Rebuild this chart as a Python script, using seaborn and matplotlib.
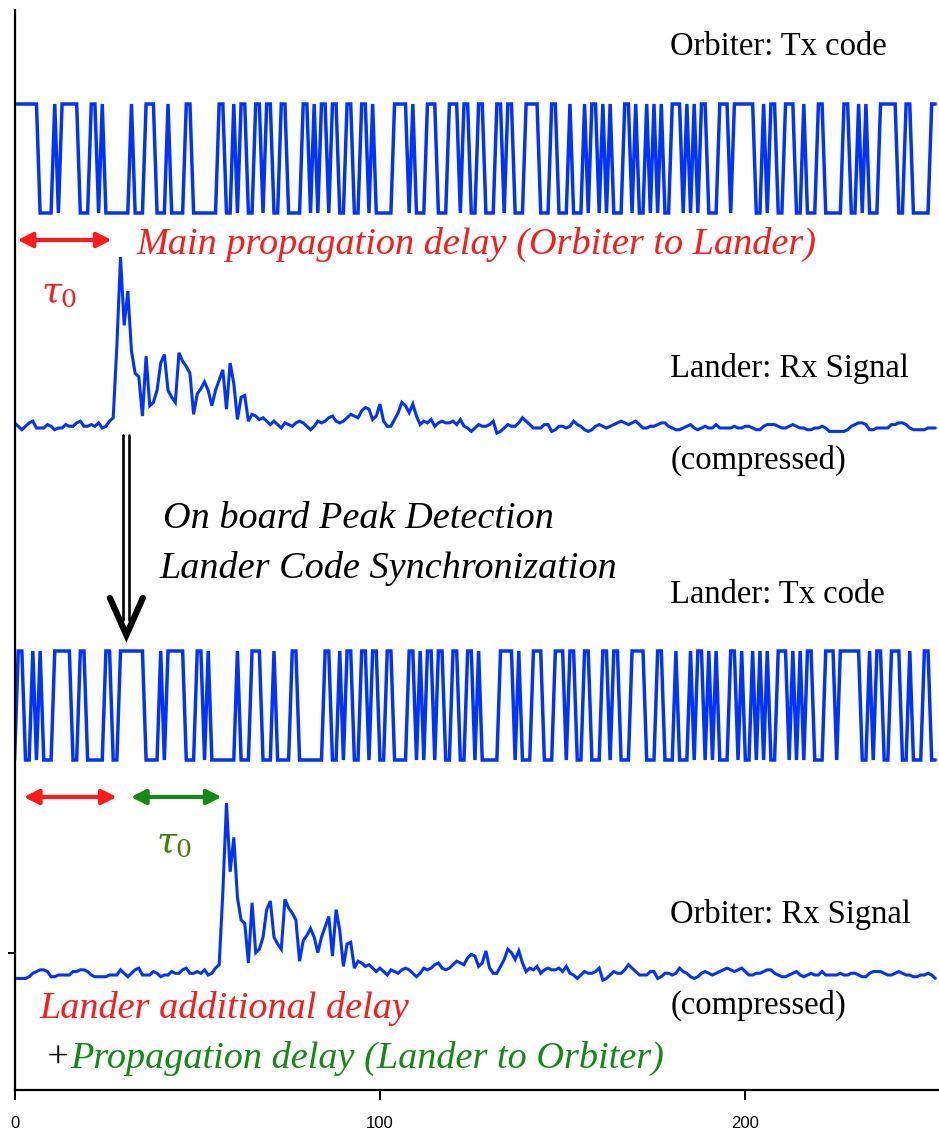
import numpy as np
import pandas as pd
import seaborn as sns
import matplotlib.pyplot as plt

# ---------------------------------------------------------------- data
# one period (255 chips) of the ranging code sent by the orbiter
orbiter_code = [
    1,1,1,1,1,1,1,0,0,0, 0,1,0,1,1,1,1,1,0,0, 0,1,1,0,1,0,0,0,0,0,
    0,0,1,0,0,0,1,1,1,0, 0,0,1,0,0,0,0,1,1,0, 0,0,0,0,0,0,1,1,0,0,
    1,0,1,1,0,0,1,1,0,1, 1,0,0,1,1,0,0,0,0,1, 1,0,1,0,1,1,0,1,1,0,
    0,1,1,0,0,1,1,0,1,0, 0,0,0,0,1,1,1,1,0,1, 0,0,0,1,1,1,0,0,0,1,
    1,1,0,1,1,0,0,1,1,0, 0,0,1,1,0,1,1,0,0,0, 1,1,1,1,0,0,0,1,1,0,
    0,0,1,0,0,0,1,0,1,1, 0,1,0,1,0,0,0,1,1,0, 1,0,0,1,0,1,0,1,0,0,
    1,1,1,0,1,0,1,0,1,1, 0,0,0,1,1,1,0,1,1,1, 1,1,1,0,0,1,0,1,1,0,
    0,1,1,1,0,0,1,0,0,0, 1,1,0,0,0,0,0,1,1,0, 0,1,0,1,0,0,0,1,1,1,
    1,1,0,0,1,1,0,0,0,0, 0,1,1,0,0,
]

# compressed (correlated) signal received by the lander, one value per sample
lander_rx = [
    0.03, 0.01, -0.01, 0.01, 0.03, 0.04, 0.00, 0.00, 0.00, 0.02,
    0.01, -0.01, 0.00, 0.00, 0.02, 0.01, 0.01, 0.03, 0.04, 0.01,
    0.01, 0.02, 0.01, 0.03, 0.00, 0.01, 0.04, 0.06, 0.48, 1.00,
    0.60, 0.80, 0.45, 0.32, 0.30, 0.07, 0.42, 0.13, 0.15, 0.22,
    0.38, 0.43, 0.22, 0.18, 0.15, 0.44, 0.39, 0.36, 0.32, 0.08,
    0.20, 0.23, 0.27, 0.22, 0.13, 0.22, 0.28, 0.34, 0.11, 0.38,
    0.26, 0.05, 0.18, 0.19, 0.04, 0.08, 0.07, 0.05, 0.06, 0.04,
    0.02, 0.04, 0.02, 0.00, 0.03, 0.02, 0.01, 0.03, 0.04, 0.03,
    0.01, -0.01, 0.01, 0.04, 0.03, 0.04, 0.06, 0.07, 0.04, 0.03,
    0.04, 0.06, 0.08, 0.07, 0.06, 0.10, 0.12, 0.11, 0.05, 0.07,
    0.14, 0.04, 0.01, 0.01, 0.05, 0.09, 0.15, 0.13, 0.09, 0.14,
    0.07, 0.02, 0.04, 0.03, 0.05, 0.01, 0.03, 0.04, 0.03, 0.03,
    0.04, 0.02, 0.05, 0.01, 0.00, -0.02, 0.00, 0.02, 0.01, 0.01,
    0.02, 0.04, -0.03, -0.02, 0.00, 0.02, 0.01, 0.01, 0.03, 0.06,
    0.04, 0.02, 0.00, 0.00, 0.00, 0.02, 0.02, -0.02, -0.01, 0.01,
    0.01, 0.00, 0.01, 0.04, 0.02, 0.01, -0.01, -0.02, -0.01, 0.01,
    0.02, 0.01, -0.00, 0.01, 0.02, 0.03, 0.04, 0.03, 0.02, 0.03,
    0.04, 0.02, 0.00, 0.00, 0.01, 0.01, 0.02, 0.03, 0.03, 0.01,
    -0.00, -0.01, -0.01, -0.00, 0.01, 0.02, 0.00, -0.01, -0.00, 0.01,
    0.00, 0.00, 0.02, 0.00, 0.00, 0.00, 0.00, 0.01, 0.00, 0.00,
    0.01, 0.01, 0.00, -0.01, -0.01, 0.01, 0.02, 0.02, 0.02, 0.01,
    0.00, -0.00, 0.01, 0.02, 0.01, -0.00, -0.00, -0.01, -0.01, -0.00,
    0.00, 0.01, -0.00, -0.02, -0.02, -0.02, -0.02, -0.02, -0.01, 0.01,
    0.02, 0.03, 0.03, 0.02, -0.01, -0.01, 0.00, 0.00, -0.00, 0.00,
    0.02, 0.02, 0.03, 0.03, 0.02, 0.00, -0.01, -0.01, -0.01, -0.01,
    0.00, 0.00, -0.00,
]

tau0 = 29               # one-way propagation delay, in samples
n_samples = len(lander_rx)
x_ticks = [0, 100, 200]

# lander replies with its own code, re-aligned on the detected peak
lander_code = np.roll(np.array(orbiter_code), tau0)[:n_samples]
orbiter_tx = np.array(orbiter_code)[:n_samples]
# the orbiter sees the compressed echo after the round trip
orbiter_rx = np.roll(np.array(lander_rx), tau0)

# vertical placement of the four stacked traces: (offset, scale, width)
lanes = {
    "orbiter_tx": (877, 109, 2.5),
    "lander_rx": (662, 171, 2.2),
    "lander_tx": (330, 109, 2.5),
    "orbiter_rx": (115, 172, 2.2),
}

samples = np.arange(n_samples)
frames = []
for name, values in [("orbiter_tx", orbiter_tx), ("lander_rx", lander_rx),
                     ("lander_tx", lander_code), ("orbiter_rx", orbiter_rx)]:
    off, sc, _ = lanes[name]
    frames.append(pd.DataFrame({"sample": samples,
                                "level": off + sc * np.asarray(values, float),
                                "trace": name}))
df = pd.concat(frames, ignore_index=True)

# ---------------------------------------------------------------- style
sns.set_theme(style="white")
plt.rcParams["font.family"] = ["Liberation Serif", "DejaVu Serif"]
plt.rcParams["mathtext.fontset"] = "dejavuserif"

BLUE = "#0033ff"
RED = "#ff1a1a"
GREEN = "#138a13"

fig = plt.figure(figsize=(9.39, 11.37), dpi=100)
ax = fig.add_axes([0.0155, 1 - 1090 / 1137, 0.9845, 1080 / 1137])

for name, (_, _, width) in lanes.items():
    sns.lineplot(data=df[df["trace"] == name], x="sample", y="level",
                 ax=ax, color=BLUE, lw=width, estimator=None, sort=False,
                 legend=False, solid_joinstyle="miter")

ax.set_xlim(0, 253)
ax.set_ylim(0, 1080)
ax.set_xlabel("")
ax.set_ylabel("")
for s in ("top", "right"):
    ax.spines[s].set_visible(False)
for s in ("left", "bottom"):
    ax.spines[s].set_color("black")
    ax.spines[s].set_linewidth(1.6)

ax.set_xticks(x_ticks)
ax.set_xticklabels([str(t) for t in x_ticks], family=["Liberation Sans", "DejaVu Sans"],
                   fontsize=12)
ax.set_yticks([137])
ax.set_yticklabels([""])
ax.tick_params(axis="x", direction="out", length=7, width=1.4, colors="black",
               pad=12, bottom=True)
ax.tick_params(axis="y", direction="out", length=5, width=1.4, colors="black",
               left=True)

# ---------------------------------------------------------------- labels
lab_kw = dict(fontsize=23.5, color="black", ha="left", va="center")
ax.text(179.5, 1043, "Orbiter: Tx code", **lab_kw)
ax.text(179.5, 721, "Lander: Rx Signal", **lab_kw)
ax.text(179.5, 630, "(compressed)", **lab_kw)
ax.text(179.5, 495, "Lander: Tx code", **lab_kw)
ax.text(179.5, 175, "Orbiter: Rx Signal", **lab_kw)
ax.text(179.5, 85, "(compressed)", **lab_kw)

it_kw = dict(fontsize=27.5, style="italic", ha="left", va="center")
ax.text(33.4, 846, "Main propagation delay (Orbiter to Lander)", color=RED, **it_kw)
ax.text(40.5, 571, "On board Peak Detection", color="black", **it_kw)
ax.text(39.7, 521, "Lander Code Synchronization", color="black", **it_kw)
ax.text(6.8, 82, "Lander additional delay", color=RED, **it_kw)
ax.text(8.2, 32, "+", color="black", **it_kw)
ax.text(15.3, 32, "Propagation delay (Lander to Orbiter)", color=GREEN, **it_kw)

ax.text(12.3, 797, r"$\tau_0$", color=RED, fontsize=26, ha="center", va="center")
ax.text(43.8, 247, r"$\tau_0$", color="#3f7f10", fontsize=26, ha="center", va="center")

# delay arrows
def delay_arrow(x0, x1, y, color):
    ax.annotate("", xy=(x1, y), xytext=(x0, y),
                arrowprops=dict(arrowstyle="<|-|>", color=color, lw=3,
                                mutation_scale=22, shrinkA=0, shrinkB=0))

delay_arrow(0.8, tau0 - 2.4, 850, RED)
delay_arrow(2.5, tau0 - 1.0, 293, RED)
delay_arrow(tau0 + 2.8, 2 * tau0 - 1.3, 293, GREEN)

# double-shaft arrow: peak detection triggers the lander code
xc = tau0 + 1.6
ax.plot([xc - 0.8, xc - 0.8], [655, 470], color="black", lw=1.9)
ax.plot([xc + 0.8, xc + 0.8], [655, 470], color="black", lw=1.9)
ax.plot([xc - 4.5, xc, xc + 4.5], [492, 455, 492], color="black", lw=4.5,
        solid_joinstyle="miter", solid_capstyle="round")

fig.savefig("out.png", dpi=100)
